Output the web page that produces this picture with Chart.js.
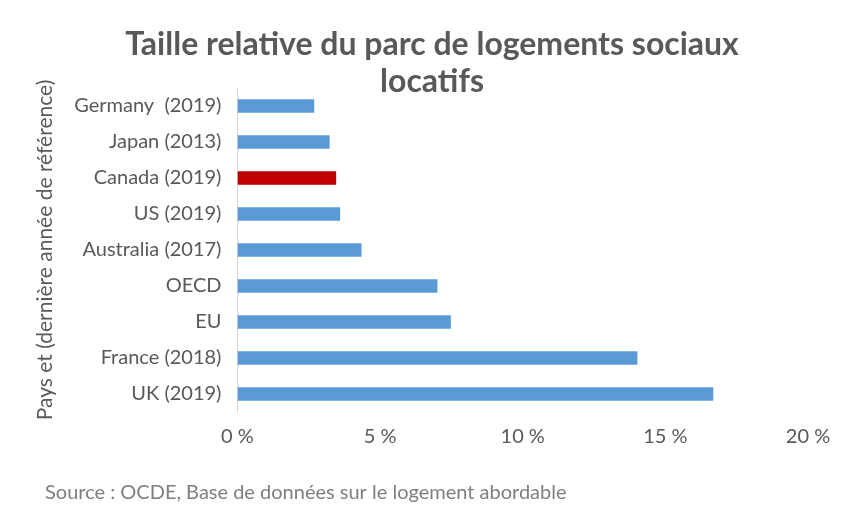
<!DOCTYPE html>
<html>
<head>
<meta charset="utf-8">
<script src="https://cdn.jsdelivr.net/npm/chart.js@4"></script>
<style>
    html, body { margin: 0; padding: 0; background: #ffffff; }
    #wrap { width: 850px; height: 515px; position: relative; }
</style>
</head>
<body>
<div id="wrap"><canvas id="parcChart"></canvas></div>
<script>
// Data
const countries = ['Germany  (2019)', 'Japan (2013)', 'Canada (2019)', 'US (2019)', 'Australia (2017)', 'OECD', 'EU', 'France (2018)', 'UK (2019)'];
const shareValues = [2.69, 3.23, 3.46, 3.60, 4.35, 7.01, 7.48, 14.02, 16.68];
const highlightCountry = 'Canada (2019)';
const xTicks = [0, 5, 10, 15, 20];

const titleLines = ['Taille relative du parc de logements sociaux', 'locatifs'];
const axisTitle = 'Pays et (dernière année de référence)';
const sourceNote = 'Source : OCDE, Base de données sur le logement abordable';

const FONT = "Lato, 'Open Sans', sans-serif";
const GREY = '#595959';

// Title (centred a bit right of the canvas centre) and source note
const textPlugin = {
    id: 'chartTexts',
    afterDraw(chart) {
        const ctx = chart.ctx;
        ctx.save();
        ctx.textBaseline = 'middle';
        ctx.font = 'bold 32px ' + FONT;
        ctx.fillStyle = GREY;
        ctx.textAlign = 'center';
        titleLines.forEach((line, i) => ctx.fillText(line, 432, 45 + i * 37));
        ctx.font = '20px ' + FONT;
        ctx.fillStyle = '#7f7f7f';
        ctx.textAlign = 'left';
        ctx.fillText(sourceNote, 45, 493);
        ctx.restore();
    }
};

const ctx = document.getElementById('parcChart').getContext('2d');
new Chart(ctx, {
    type: 'bar',
    data: {
        labels: countries,
        datasets: [{
            data: shareValues,
            backgroundColor: countries.map(c => c === highlightCountry ? '#c00000' : '#5b9bd5'),
            categoryPercentage: 1,
            barPercentage: 0.37
        }]
    },
    options: {
        indexAxis: 'y',
        responsive: true,
        maintainAspectRatio: false,
        animation: false,
        layout: { padding: { left: 33, right: 42, top: 88, bottom: 53 } },
        plugins: {
            legend: { display: false },
            tooltip: { enabled: false },
            title: { display: false }
        },
        scales: {
            x: {
                min: 0,
                max: 20,
                afterBuildTicks: axis => { axis.ticks = xTicks.map(v => ({ value: v })); },
                grid: { display: false, drawTicks: false },
                border: { display: false },
                ticks: {
                    color: GREY,
                    padding: 13,
                    font: { family: FONT, size: 20 },
                    callback: v => v + ' %'
                }
            },
            y: {
                grid: { display: false, drawTicks: false },
                border: { display: true, color: '#d9d9d9', width: 1 },
                ticks: {
                    color: GREY,
                    padding: 16,
                    font: { family: FONT, size: 20 }
                },
                title: {
                    display: true,
                    text: axisTitle,
                    color: GREY,
                    font: { family: FONT, size: 21 },
                    padding: { top: 0, bottom: 0 }
                }
            }
        }
    },
    plugins: [textPlugin]
});
</script>
</body>
</html>
